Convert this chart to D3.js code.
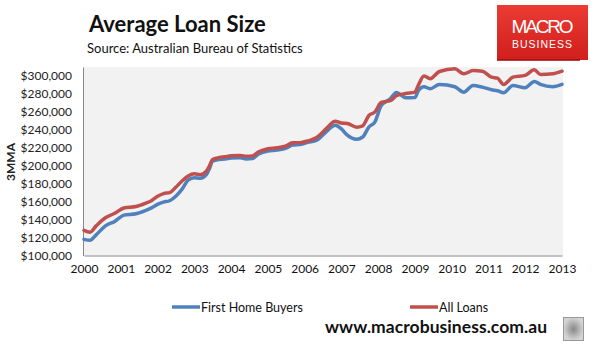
<!DOCTYPE html>
<html><head><meta charset="utf-8">
<script src="https://cdn.jsdelivr.net/npm/d3@7"></script>
<style>body{margin:0;background:#fff}svg{display:block}</style>
</head><body>
<svg id="c" width="596" height="356"></svg>
<script>
const months = ["2000-01","2000-03","2000-05","2000-08","2000-11","2001-02","2001-06","2001-09","2001-11","2002-01","2002-03","2002-05","2002-07","2002-09","2002-11","2003-01","2003-03","2003-05","2003-06","2003-07","2003-09","2003-11","2004-01","2004-04","2004-06","2004-08","2004-10","2005-01","2005-04","2005-07","2005-09","2005-12","2006-02","2006-05","2006-08","2006-11","2007-01","2007-03","2007-06","2007-08","2007-10","2007-12","2008-02","2008-05","2008-07","2008-10","2009-01","2009-02","2009-04","2009-06","2009-09","2010-02","2010-05","2010-08","2010-11","2011-02","2011-04","2011-06","2011-09","2012-01","2012-04","2012-06","2012-10","2013-01"];
const firstHomeBuyers = [118,117,123,133,138,145,146.5,150,153,157,159.5,161,166,174,184,186.5,186,190,197,205,207,207.5,208.5,209,207.5,208,213,216.5,217.5,219.5,223,224,226,228.5,237.5,245,241,234,229.5,232,243,249,267,274.5,281.5,275.8,276,283,288,285.8,290.6,288,282,289.4,287.6,284.7,283.5,281.3,289.4,286.9,293.9,290.6,288,290.6].map(v=>v*1000);
const allLoans = [128,126,133,142,147,153,154.5,158,161,166,169,170,176,183,188.5,191,190,194,200,207,209,210,211,211.5,210.5,211,215.5,219,220,222,225.5,226,227.5,231.5,241,249.5,247.5,247,243,244.5,256,260,270.5,272.5,278,280.5,282,289,300,297,305,308,302.4,306,305.3,298.7,297.5,290.6,298.7,300.6,306.9,301.7,302.4,305.3].map(v=>v*1000);
const yTicks = [100000,120000,140000,160000,180000,200000,220000,240000,260000,280000,300000];
const xTickYears = [2000,2001,2002,2003,2004,2005,2006,2007,2008,2009,2010,2011,2012,2013];
const seriesNames = ["First Home Buyers","All Loans"];
const colors = ["#4f81bd","#c0504d"];

const svg = d3.select("#c");
const font = "Lato, 'Open Sans', sans-serif";
const parse = d3.timeParse("%Y-%m");
const dates = months.map(parse);

const L=83, R=563, T=67, B=255.5;
const x = d3.scaleTime().domain([new Date(2000,0,1), new Date(2013,0,1)]).range([L+1, R-1]);
const y = d3.scaleLinear().domain([100000, 310000]).range([B, T]);

// title
svg.append("text").attr("x",89).attr("y",32).attr("font-family",font).attr("font-weight",700)
  .attr("font-size",22).attr("fill","#111").text("Average Loan Size");
svg.append("text").attr("x",87).attr("y",53).attr("font-family",font)
  .attr("font-size",13).attr("fill","#111").text("Source: Australian Bureau of Statistics");

// logo
const grad = svg.append("defs").append("linearGradient").attr("id","lg").attr("x1",0).attr("y1",0).attr("x2",0).attr("y2",1);
grad.append("stop").attr("offset","0%").attr("stop-color","#ec3b33");
grad.append("stop").attr("offset","100%").attr("stop-color","#d01f1c");
svg.append("rect").attr("x",497).attr("y",5).attr("width",91).attr("height",55).attr("fill","url(#lg)");
svg.append("text").attr("x",542.5).attr("y",33).attr("text-anchor","middle").attr("font-family","'Liberation Sans', Arial, sans-serif")
  .attr("font-size",19).attr("fill","#fff").attr("textLength",62).text("MACRO");
svg.append("text").attr("x",542.5).attr("y",48).attr("text-anchor","middle").attr("font-family","'Liberation Sans', Arial, sans-serif")
  .attr("font-size",10.5).attr("fill","#fff").attr("letter-spacing",1).text("BUSINESS");
svg.append("rect").attr("x",497).attr("y",59).attr("width",83).attr("height",2).attr("fill","#a01010").attr("opacity",0.8);

// plot area
svg.append("rect").attr("x",L).attr("y",T).attr("width",R-L).attr("height",B-T).attr("fill","#f2f2f2");

// y axis
const yAxis = svg.append("g").attr("transform",`translate(${L},0)`)
  .call(d3.axisLeft(y).tickValues(yTicks).tickSize(0).tickPadding(11).tickFormat(d=>"$"+d3.format(",")(d)));
yAxis.select(".domain").attr("stroke","#888").attr("stroke-width",1);
yAxis.selectAll("text").attr("font-family",font).attr("font-size",12).attr("fill","#222");

// x axis
const xAxis = svg.append("g").attr("transform",`translate(0,${B})`)
  .call(d3.axisBottom(x).tickValues(xTickYears.map(v=>new Date(v,0,1))).tickSize(0).tickPadding(9).tickFormat(d3.timeFormat("%Y")));
xAxis.select(".domain").attr("stroke","#888").attr("stroke-width",1.2);
xAxis.selectAll("text").attr("font-family",font).attr("font-size",12).attr("fill","#111");

// y label
svg.append("text").attr("transform","translate(15,162) rotate(-90)").attr("text-anchor","middle")
  .attr("font-family",font).attr("font-weight",700).attr("font-size",12).attr("fill","#222").text("3MMA");

// lines
const line = d3.line().x((d,i)=>x(dates[i])).y(d=>y(d)).curve(d3.curveMonotoneX);
[firstHomeBuyers, allLoans].forEach((s,k)=>{
  svg.append("path").datum(s).attr("d",line).attr("fill","none").attr("stroke",colors[k])
    .attr("stroke-width",3.5).attr("stroke-linejoin","round").attr("stroke-linecap","round");
});

// legend
const legX = [172, 410];
seriesNames.forEach((n,k)=>{
  svg.append("line").attr("x1",legX[k]).attr("x2",legX[k]+28).attr("y1",307).attr("y2",307)
    .attr("stroke",colors[k]).attr("stroke-width",3.5);
  svg.append("text").attr("x",legX[k]+29).attr("y",311.5).attr("font-family",font).attr("font-size",12.5)
    .attr("fill","#111").text(n);
});

// footer
svg.append("text").attr("x",325).attr("y",333).attr("font-family",font).attr("font-weight",700)
  .attr("font-size",17.5).attr("fill","#111").attr("textLength",222).text("www.macrobusiness.com.au");
const wg = svg.append("defs").append("radialGradient").attr("id","wg");
wg.append("stop").attr("offset","0%").attr("stop-color","#888");
wg.append("stop").attr("offset","100%").attr("stop-color","#d4d4d4");
svg.append("rect").attr("x",563.5).attr("y",317.5).attr("width",20).attr("height",23).attr("fill","url(#wg)").attr("stroke","#999");
</script>
</body></html>
